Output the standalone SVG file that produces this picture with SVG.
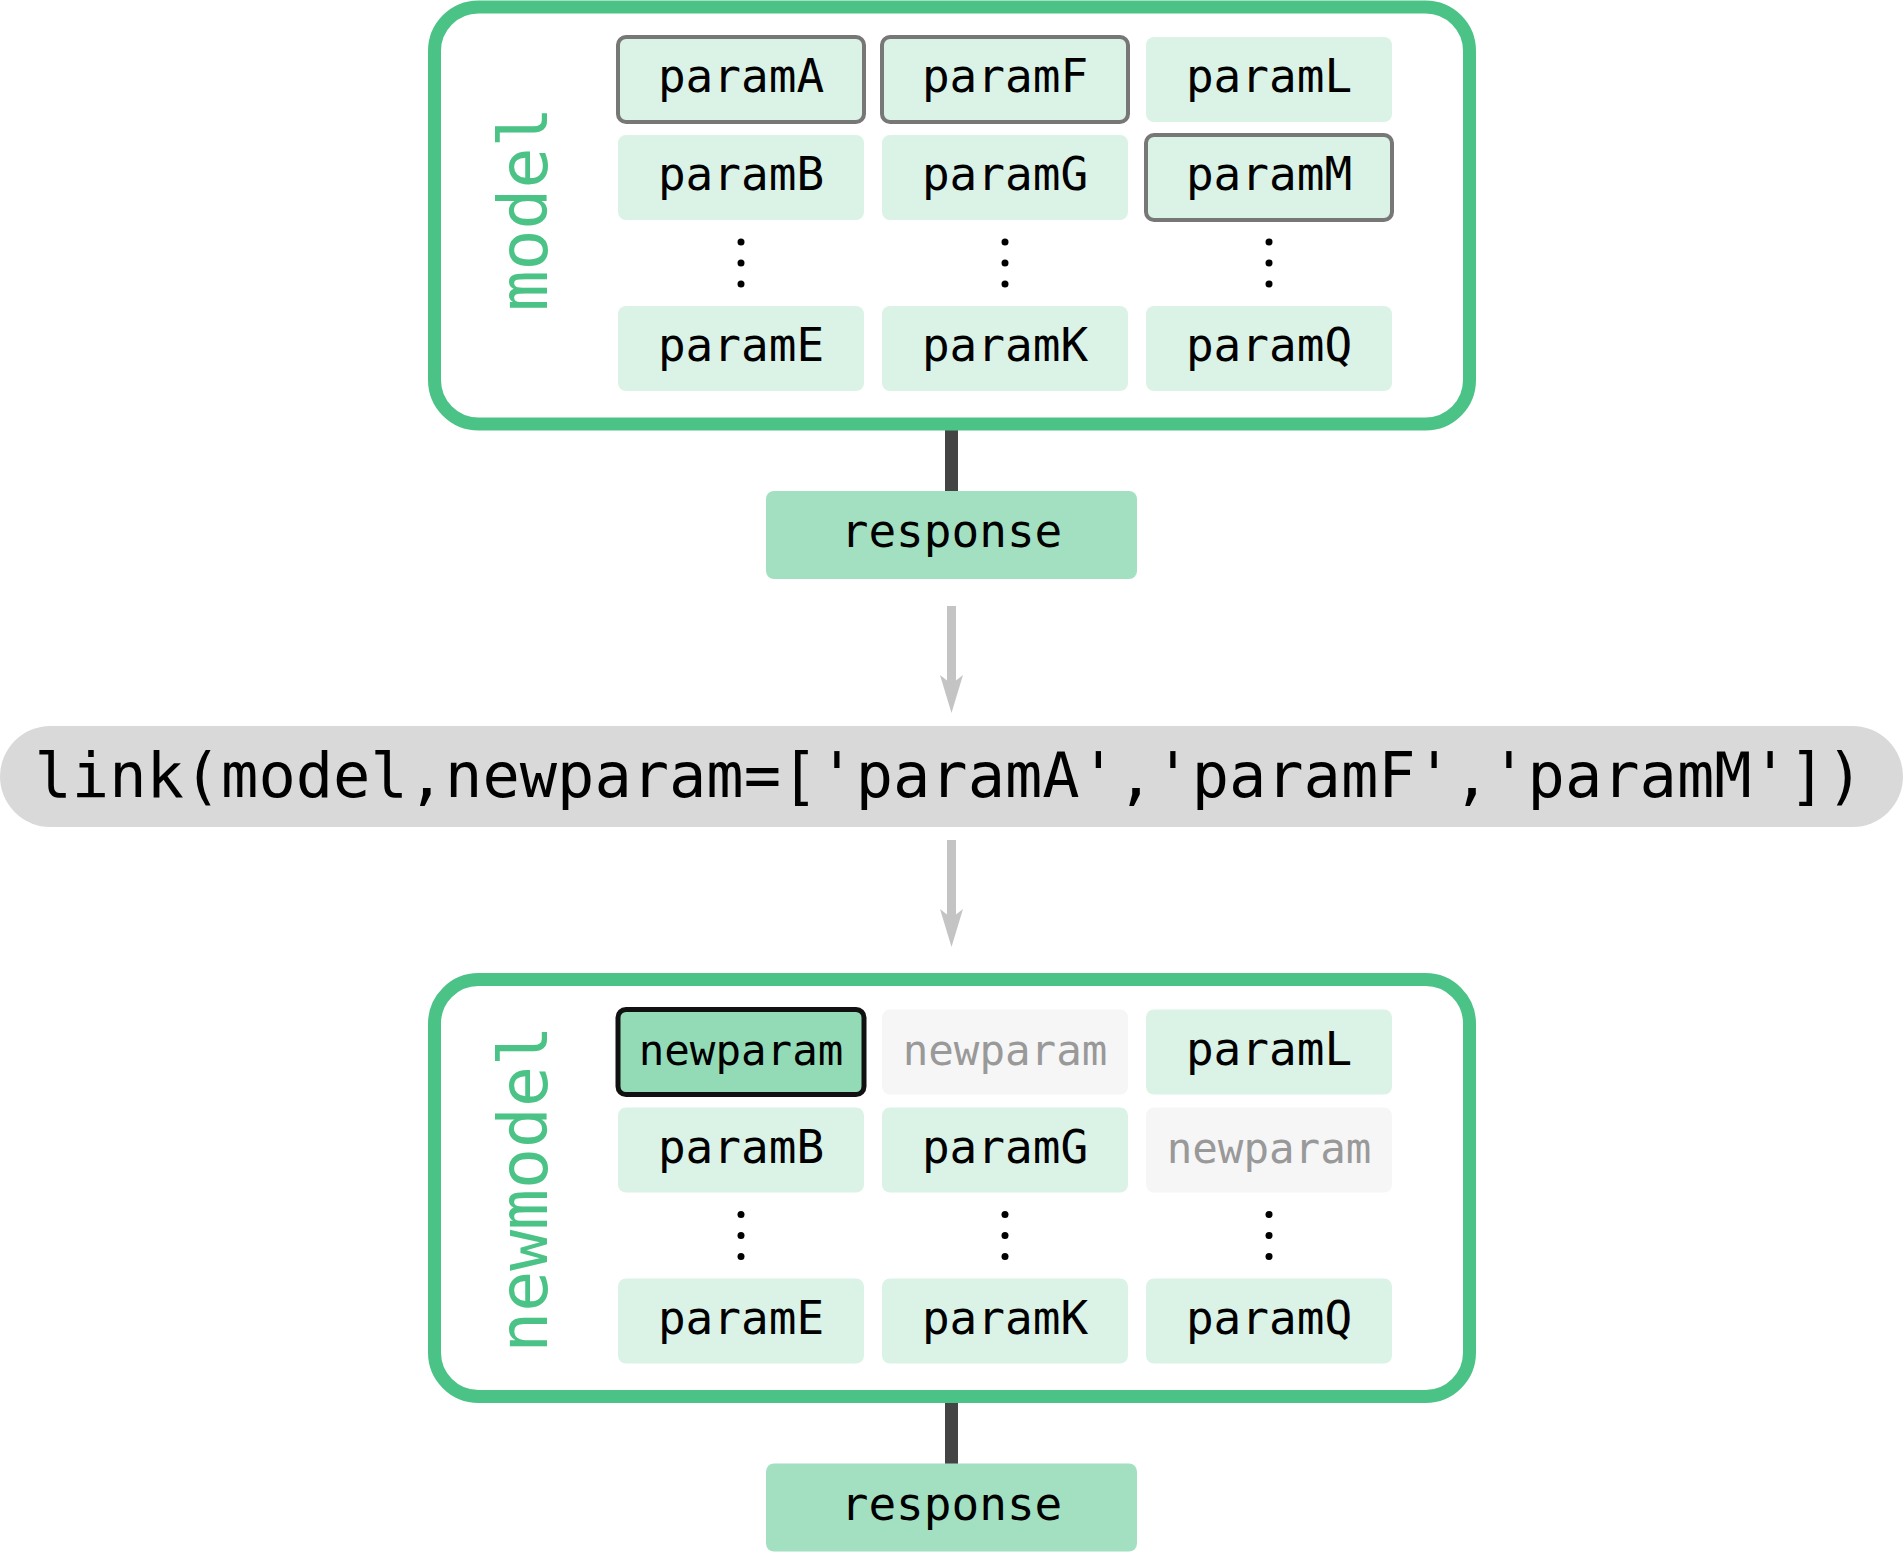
<svg xmlns="http://www.w3.org/2000/svg" width="1903" height="1552" viewBox="0 0 1903 1552">
<style>
.container{fill:#ffffff;stroke:#4cc386;stroke-width:13}
.p{fill:#dbf2e6}
.sel{fill:#dbf2e6;stroke:#777777;stroke-width:4}
.hl{fill:#93dbb6;stroke:#111111;stroke-width:5}
.gone{fill:#f6f6f6}
.resp{fill:#a3e0c2}
.t{font-family:"DejaVu Sans Mono","Liberation Mono",monospace;font-size:46px;fill:#000;text-anchor:middle}
.tn{font-size:42.5px}
.tg{fill:#999999}
.lbl{font-family:"DejaVu Sans Mono","Liberation Mono",monospace;font-size:68px;fill:#4cc386;text-anchor:middle}
.code{font-family:"DejaVu Sans Mono","Liberation Mono",monospace;font-size:62px;fill:#000;text-anchor:middle}
.dot{fill:#000}
.dark{stroke:#444444;stroke-width:13}
.gray{stroke:#c4c4c4;stroke-width:9}
.head{fill:#c4c4c4}
</style>
<g id="connectors">
<line class="dark" x1="951.5" y1="428" x2="951.5" y2="492"/>
<line class="dark" x1="951.5" y1="1400" x2="951.5" y2="1464"/>
<line class="gray" x1="951.5" y1="606" x2="951.5" y2="690"/>
<path class="head" d="M940,675 L951.5,713 L963,675 L951.5,684 Z"/>
<line class="gray" x1="951.5" y1="840" x2="951.5" y2="924"/>
<path class="head" d="M940,909 L951.5,947 L963,909 L951.5,918 Z"/>
</g>
<g id="model">
<rect class="container" x="434.5" y="7" width="1035" height="417" rx="44"/>
<text class="lbl" transform="translate(547,209) rotate(-90)">model</text>
</g>
<g id="paramA"><rect class="sel" x="618" y="37" width="246" height="85" rx="8"/><text class="t" x="741" y="92">paramA</text></g>
<g id="paramF"><rect class="sel" x="882" y="37" width="246" height="85" rx="8"/><text class="t" x="1005" y="92">paramF</text></g>
<g id="paramL"><rect class="p" x="1146" y="37" width="246" height="85" rx="8"/><text class="t" x="1269" y="92">paramL</text></g>
<g id="paramB"><rect class="p" x="618" y="135" width="246" height="85" rx="8"/><text class="t" x="741" y="190">paramB</text></g>
<g id="paramG"><rect class="p" x="882" y="135" width="246" height="85" rx="8"/><text class="t" x="1005" y="190">paramG</text></g>
<g id="paramM"><rect class="sel" x="1146" y="135" width="246" height="85" rx="8"/><text class="t" x="1269" y="190">paramM</text></g>
<g id="dots-top">
<circle class="dot" cx="741" cy="242" r="3.5"/><circle class="dot" cx="741" cy="263" r="3.5"/><circle class="dot" cx="741" cy="284" r="3.5"/>
<circle class="dot" cx="1005" cy="242" r="3.5"/><circle class="dot" cx="1005" cy="263" r="3.5"/><circle class="dot" cx="1005" cy="284" r="3.5"/>
<circle class="dot" cx="1269" cy="242" r="3.5"/><circle class="dot" cx="1269" cy="263" r="3.5"/><circle class="dot" cx="1269" cy="284" r="3.5"/>
</g>
<g id="paramE"><rect class="p" x="618" y="306" width="246" height="85" rx="8"/><text class="t" x="741" y="361">paramE</text></g>
<g id="paramK"><rect class="p" x="882" y="306" width="246" height="85" rx="8"/><text class="t" x="1005" y="361">paramK</text></g>
<g id="paramQ"><rect class="p" x="1146" y="306" width="246" height="85" rx="8"/><text class="t" x="1269" y="361">paramQ</text></g>
<g id="response1"><rect class="resp" x="766" y="491" width="371" height="88" rx="8"/><text class="t" x="951.5" y="547">response</text></g>
<g id="link-call">
<rect x="0" y="726" width="1903" height="101" rx="50.5" fill="#d9d9d9"/>
<text class="code" x="949" y="797">link(model,newparam=['paramA','paramF','paramM'])</text>
</g>
<g id="newmodel">
<rect class="container" x="434.5" y="979.6" width="1035" height="417" rx="44"/>
<text class="lbl" transform="translate(547,1189) rotate(-90)">newmodel</text>
</g>
<g id="n-newparam1"><rect class="hl" x="618" y="1009.5" width="246" height="85" rx="8"/><text class="t tn" x="741" y="1064.5">newparam</text></g>
<g id="n-newparam2"><rect class="gone" x="882" y="1009.5" width="246" height="85" rx="8"/><text class="t tn tg" x="1005" y="1064.5">newparam</text></g>
<g id="n-paramL"><rect class="p" x="1146" y="1009.5" width="246" height="85" rx="8"/><text class="t" x="1269" y="1064.5">paramL</text></g>
<g id="n-paramB"><rect class="p" x="618" y="1107.5" width="246" height="85" rx="8"/><text class="t" x="741" y="1162.5">paramB</text></g>
<g id="n-paramG"><rect class="p" x="882" y="1107.5" width="246" height="85" rx="8"/><text class="t" x="1005" y="1162.5">paramG</text></g>
<g id="n-newparam3"><rect class="gone" x="1146" y="1107.5" width="246" height="85" rx="8"/><text class="t tn tg" x="1269" y="1162.5">newparam</text></g>
<g id="dots-bottom">
<circle class="dot" cx="741" cy="1214.5" r="3.5"/><circle class="dot" cx="741" cy="1235.5" r="3.5"/><circle class="dot" cx="741" cy="1256.5" r="3.5"/>
<circle class="dot" cx="1005" cy="1214.5" r="3.5"/><circle class="dot" cx="1005" cy="1235.5" r="3.5"/><circle class="dot" cx="1005" cy="1256.5" r="3.5"/>
<circle class="dot" cx="1269" cy="1214.5" r="3.5"/><circle class="dot" cx="1269" cy="1235.5" r="3.5"/><circle class="dot" cx="1269" cy="1256.5" r="3.5"/>
</g>
<g id="n-paramE"><rect class="p" x="618" y="1278.5" width="246" height="85" rx="8"/><text class="t" x="741" y="1333.5">paramE</text></g>
<g id="n-paramK"><rect class="p" x="882" y="1278.5" width="246" height="85" rx="8"/><text class="t" x="1005" y="1333.5">paramK</text></g>
<g id="n-paramQ"><rect class="p" x="1146" y="1278.5" width="246" height="85" rx="8"/><text class="t" x="1269" y="1333.5">paramQ</text></g>
<g id="response2"><rect class="resp" x="766" y="1463.5" width="371" height="88" rx="8"/><text class="t" x="951.5" y="1519.5">response</text></g>
</svg>
